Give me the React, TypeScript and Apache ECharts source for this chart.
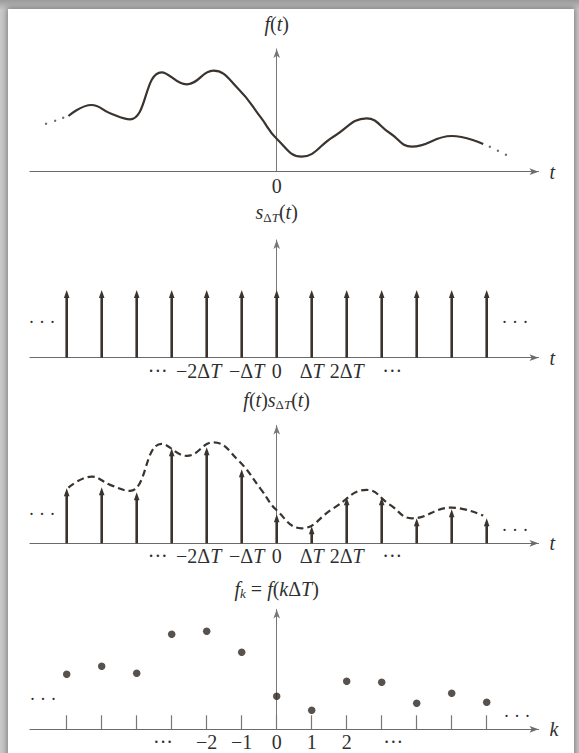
import React, { useEffect, useRef } from 'react';
import * as echarts from 'echarts';

// ---------- data ----------
// sample index k (time t = k·ΔT)
const sampleK = [-6, -5, -4, -3, -2, -1, 0, 1, 2, 3, 4, 5, 6];
// continuous f(t): t in units of ΔT, value in picture units
const curveT = [-5.95, -5.29, -4.76, -4.19, -3.29, -2.57, -1.81, -1.1, -0.45, 0, 0.71, 1.62, 2.57, 3.24, 3.86, 5.0, 5.9];
const curveV = [55.7, 66.7, 58.4, 52.4, 99.4, 87.4, 101, 83, 54, 33, 15, 35, 53.4, 38.4, 25, 35.7, 27.7];
// trailing dots of f(t)
const leftTailT = [-6.59, -6.33, -6.1];
const leftTailV = [48, 51, 54];
const rightTailT = [6.09, 6.32, 6.55];
const rightTailV = [25, 21, 17];
// impulse train strengths
const impulseStrength = [1, 1, 1, 1, 1, 1, 1, 1, 1, 1, 1, 1, 1];
// sampled impulses f(kΔT) (panel 3)
const sampledImpulse = [55, 56, 51, 95, 96, 74, 29, 17, 46, 46, 25, 34, 25];
// discrete samples f_k (panel 4)
const discreteSamples = [55, 63, 56, 95, 98, 77, 33, 19, 48, 47, 26, 36, 27];
// tick labels
const timeTickValues = [-3.4, -2, -1, 0, 1, 2, 3.3];
const timeTickLabels = ['···', '−2ΔT', '−ΔT', '0', 'ΔT', '2ΔT', '···'];
const kTickValues = [-3.25, -2, -1, 0, 1, 2, 3.33];
const kTickLabels = ['···', '−2', '−1', '0', '1', '2', '···'];
const originTickValues = [0];
const originTickLabels = ['0'];

// ---------- layout / style ----------
const SERIF = '"Liberation Serif", "Times New Roman", serif';
const INK = '#3a332e';
const AXIS = '#6b6b6b';
const TEXT = '#2f2f2f';
const FS = 20;
const X0 = 276.7; // pixel of t = 0
const UNIT = 35; // px per ΔT
const XMIN = -7.05;
const XMAX = 7.48;
const GL = X0 + XMIN * UNIT;
const GW = (XMAX - XMIN) * UNIT;

const base = { fontFamily: SERIF, fontSize: FS, lineHeight: 22, color: TEXT };
const rich = {
  u: { ...base, fontStyle: 'normal' },
  i: { ...base, fontStyle: 'italic' },
  iL: { ...base, fontStyle: 'italic', padding: [0, 16, 0, 0] },
  uR: { ...base, fontStyle: 'normal', padding: [0, 0, 0, 10] },
  sb: { fontFamily: SERIF, fontSize: 13, fontStyle: 'normal', lineHeight: 13, padding: [10, 0, 0, 0], color: TEXT },
  sbi: { fontFamily: SERIF, fontSize: 13, fontStyle: 'italic', lineHeight: 13, padding: [10, 0, 0, 0], color: TEXT },
};

const richify = (s: string) => {
  if (s === '−2ΔT') return '{u|−2Δ}{iL|T}';
  if (s === '−ΔT') return '{uR|−Δ}{i|T}';
  return s
    .split(/(T)/)
    .filter(Boolean)
    .map((p) => (p === 'T' ? '{i|T}' : `{u|${p}}`))
    .join('');
};

const pick = (vals: number[], labels: string[]) => (v: number) => {
  const i = vals.findIndex((x) => Math.abs(x - v) < 1e-6);
  return i < 0 ? '' : richify(labels[i]);
};

const zip = (a: number[], b: number[]) => a.map((v, i) => [v, b[i]]);

function impulseRender(params: any, api: any) {
  const t = api.value(0);
  const v = api.value(1);
  const p0 = api.coord([t, 0]);
  const p1 = api.coord([t, v]);
  const headLen = 8;
  const headW = 2.8;
  return {
    type: 'group',
    children: [
      {
        type: 'line',
        shape: { x1: p0[0], y1: p0[1], x2: p1[0], y2: p1[1] + headLen - 1 },
        style: { stroke: INK, lineWidth: 2.6 },
      },
      {
        type: 'polygon',
        shape: {
          points: [
            [p1[0], p1[1]],
            [p1[0] - headW, p1[1] + headLen],
            [p1[0] + headW, p1[1] + headLen],
          ],
        },
        style: { fill: INK },
      },
    ],
  };
}

function buildOption() {
  const gridTops = [49, 240, 425.5, 609.5];
  const gridHeights = [122.7, 117.7, 117.8, 119.8];
  const yMaxes = [122.7, 117.7 / 67.7, 117.8, 119.8];
  const yNames = [
    '{i|f}{u|(}{i|t}{u|)}',
    '{i|s}{sb|Δ}{sbi|T}{u|(}{i|t}{u|)}',
    '{i|f}{u|(}{i|t}{u|)}{i|s}{sb|Δ}{sbi|T}{u|(}{i|t}{u|)}',
    '{i|f}{sbi|k}{u| = }{i|f}{u|(}{i|k}{u|Δ}{i|T}{u|)}',
  ];
  const yNameGaps = [14, 17, 15, 10];
  const xNames = ['{i|t}', '{i|t}', '{i|t}', '{i|k}'];
  const tickSets = [
    [originTickValues, originTickLabels],
    [timeTickValues, timeTickLabels],
    [timeTickValues, timeTickLabels],
    [kTickValues, kTickLabels],
  ] as const;

  const axisLineBase = {
    show: true,
    onZero: true,
    symbol: ['none', 'arrow'],
    symbolSize: [5, 9],
    lineStyle: { color: AXIS, width: 1 },
  };

  const grid = gridTops.map((top, i) => ({
    left: GL,
    width: GW,
    top,
    height: gridHeights[i],
    containLabel: false,
    outerBoundsMode: 'none',
  }));

  const xAxis = gridTops.map((_, i) => ({
    type: 'value',
    gridIndex: i,
    min: XMIN,
    max: XMAX,
    name: xNames[i],
    nameLocation: 'end',
    nameGap: 11,
    nameTextStyle: { rich, fontFamily: SERIF, fontSize: FS, color: TEXT },
    axisLine: axisLineBase,
    splitLine: { show: false },
    axisTick:
      i === 3
        ? {
            show: true,
            inside: true,
            length: 14,
            customValues: sampleK,
            lineStyle: { color: '#777', width: 1.2 },
          }
        : { show: false },
    axisLabel: {
      show: true,
      customValues: tickSets[i][0] as unknown as number[],
      formatter: pick(tickSets[i][0] as unknown as number[], tickSets[i][1] as unknown as string[]),
      margin: i === 0 ? 3 : 2,
      rich,
      fontFamily: SERIF,
      fontSize: FS,
      color: TEXT,
    },
  }));

  const yAxis = gridTops.map((_, i) => ({
    type: 'value',
    gridIndex: i,
    min: 0,
    max: yMaxes[i],
    name: yNames[i],
    nameLocation: 'end',
    nameGap: yNameGaps[i],
    nameTextStyle: { rich, fontFamily: SERIF, fontSize: FS, color: TEXT },
    axisLine: { ...axisLineBase, lineStyle: { color: '#777', width: 1 } },
    axisTick: { show: false },
    axisLabel: { show: false },
    splitLine: { show: false },
  }));

  const curve = zip(curveT, curveV);
  const series: any[] = [
    {
      type: 'line',
      xAxisIndex: 0,
      yAxisIndex: 0,
      data: curve,
      smooth: 0.45,
      showSymbol: false,
      lineStyle: { color: INK, width: 2.2 },
    },
    {
      type: 'scatter',
      xAxisIndex: 0,
      yAxisIndex: 0,
      data: [...zip(leftTailT, leftTailV), ...zip(rightTailT, rightTailV)],
      symbolSize: 2.4,
      itemStyle: { color: '#444' },
    },
    {
      type: 'custom',
      xAxisIndex: 1,
      yAxisIndex: 1,
      data: zip(sampleK, impulseStrength),
      encode: { x: 0, y: 1 },
      renderItem: impulseRender,
      z: 5,
    },
    {
      type: 'line',
      xAxisIndex: 2,
      yAxisIndex: 2,
      data: curve,
      smooth: 0.45,
      showSymbol: false,
      lineStyle: { color: INK, width: 2.2, type: [7, 4] },
    },
    {
      type: 'custom',
      xAxisIndex: 2,
      yAxisIndex: 2,
      data: zip(sampleK, sampledImpulse),
      encode: { x: 0, y: 1 },
      renderItem: impulseRender,
      z: 5,
    },
    {
      type: 'scatter',
      xAxisIndex: 3,
      yAxisIndex: 3,
      data: zip(sampleK, discreteSamples),
      symbolSize: 7.5,
      itemStyle: { color: '#2e2723' },
      z: 5,
    },
  ];

  const dots = (x: number, y: number) => ({
    type: 'text',
    x,
    y,
    style: {
      text: '· · ·',
      align: 'center',
      verticalAlign: 'middle',
      fontFamily: SERIF,
      fontSize: 18,
      fill: TEXT,
    },
  });

  return {
    animation: false,
    backgroundColor: 'transparent',
    grid,
    xAxis,
    yAxis,
    series,
    graphic: [
      dots(42, 322),
      dots(515, 322),
      dots(42, 514),
      dots(515, 530),
      dots(43, 699),
      dots(517, 716),
    ],
  };
}

export default function App() {
  const ref = useRef<HTMLDivElement>(null);
  useEffect(() => {
    if (!ref.current) return;
    const chart = echarts.init(ref.current, undefined, { renderer: 'svg' });
    chart.setOption(buildOption() as any);
    return () => chart.dispose();
  }, []);
  return (
    <div
      style={{
        position: 'absolute',
        left: 0,
        top: 0,
        width: 579,
        height: 753,
        overflow: 'hidden',
        background: 'linear-gradient(180deg, #9a9a9a 0px, #c9c9c9 10px, #c9c9c9 100%)',
      }}
    >
      <div
        style={{
          position: 'absolute',
          left: 8,
          top: 9,
          width: 566,
          height: 770,
          background: '#ffffff',
          boxShadow: '0 0 6px 1px rgba(0,0,0,0.4)',
        }}
      />
      <div ref={ref} style={{ position: 'absolute', left: 0, top: 0, width: 579, height: 753 }} />
    </div>
  );
}
